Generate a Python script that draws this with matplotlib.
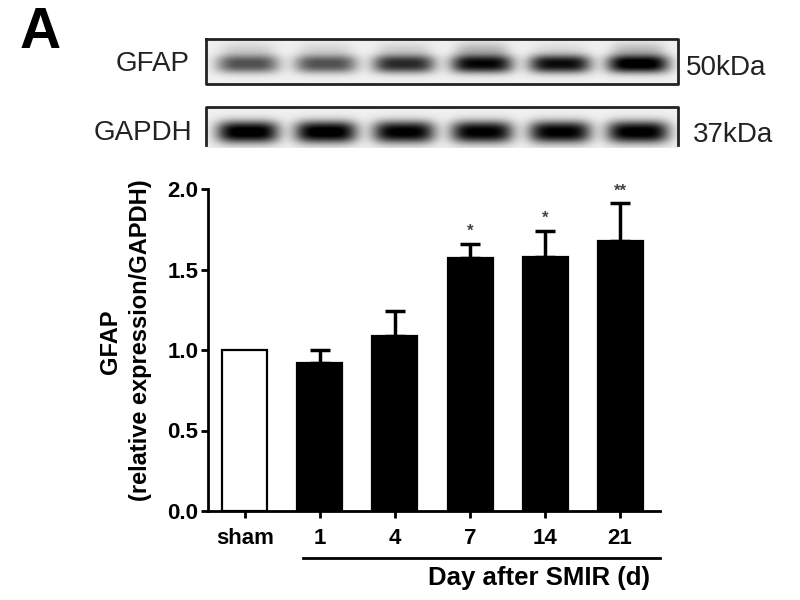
import numpy as np
import matplotlib
matplotlib.use("Agg")
import matplotlib.pyplot as plt
from matplotlib.transforms import blended_transform_factory

# ---------------- data ----------------
groups = ["sham", "1", "4", "7", "14", "21"]
means = [1.00, 0.92, 1.09, 1.57, 1.58, 1.68]
sems = [0.00, 0.08, 0.15, 0.09, 0.16, 0.23]
signif = ["", "", "", "*", "*", "**"]
bar_colors = ["white", "black", "black", "black", "black", "black"]
yticks = [0.0, 0.5, 1.0, 1.5, 2.0]
ytick_labels = ["0.0", "0.5", "1.0", "1.5", "2.0"]
gfap_band = [0.62, 0.62, 0.78, 0.92, 0.90, 1.00]
gfap_smear = [0.12, 0.10, 0.12, 0.22, 0.08, 0.20]
gapdh_band = [1.00, 1.00, 0.96, 0.96, 0.96, 0.98]
blot_labels = ["GFAP", "GAPDH"]
kda_labels = ["50kDa", "37kDa"]

plt.rcParams['font.family'] = ['Liberation Sans', 'DejaVu Sans']
W, H = 800, 600
fig = plt.figure(figsize=(8, 6), dpi=100)

# ---------------- overlay (pixel coordinates) ----------------
ov = fig.add_axes([0, 0, 1, 1])
ov.set_xlim(0, W)
ov.set_ylim(H, 0)
ov.axis('off')

lane_x0, lane_dx = 248, 78


def blot_image(x0, x1, y0, y1, cy, hw, hh, inten, smear=None, smear_dy=0, smear_hh=0):
    xs = np.arange(x0, x1, 1.0) + 0.5
    ys = np.arange(y0, y1, 1.0) + 0.5
    X, Y = np.meshgrid(xs, ys)
    img = np.full(X.shape, 0.06)
    for i, v in enumerate(inten):
        cx = lane_x0 + i * lane_dx
        core = np.exp(-(np.abs((X - cx) / hw) ** 4) - (np.abs((Y - cy) / hh) ** 2.5))
        img += v * core
        if smear is not None:
            sm = np.exp(-(np.abs((X - cx) / (hw * 0.85)) ** 4) - (np.abs((Y - (cy - smear_dy)) / smear_hh) ** 2))
            img += smear[i] * sm
    return np.clip(img, 0, 1)


# GFAP blot
gx0, gx1, gy0, gy1 = 206, 678, 39, 84
img = blot_image(gx0, gx1, gy0, gy1, 64, 31, 9, gfap_band, gfap_smear, 14, 8)
ov.imshow(img, cmap='gray_r', vmin=0, vmax=1, extent=(gx0, gx1, gy1, gy0),
          interpolation='bilinear', aspect='auto', zorder=1)
ov.plot([gx0, gx1, gx1, gx0, gx0], [gy0, gy0, gy1, gy1, gy0], color='#222222', lw=2, zorder=2)

# GAPDH blot
hx0, hx1, hy0, hy1 = 206, 678, 107, 148
img2 = blot_image(hx0, hx1, hy0, hy1, 132, 31, 11, gapdh_band)
ov.imshow(img2, cmap='gray_r', vmin=0, vmax=1, extent=(hx0, hx1, hy1, hy0),
          interpolation='bilinear', aspect='auto', zorder=1)
ov.plot([hx0, hx0, hx1, hx1], [hy1 - 3, hy0, hy0, hy1 - 3], color='#222222', lw=2, zorder=2)

ov.text(40, 48, "A", fontsize=41, fontweight='bold', ha='center', va='baseline', color='black')
ov.text(190, 64, blot_labels[0], fontsize=20, ha='right', va='center', color='#222222')
ov.text(192, 133, blot_labels[1], fontsize=20, ha='right', va='center', color='#222222')
ov.text(686, 68, kda_labels[0], fontsize=20, ha='left', va='center', color='#222222')
ov.text(693, 135, kda_labels[1], fontsize=20, ha='left', va='center', color='#222222')

# y label (two lines)
ov.text(110, 342, "GFAP", rotation=90, fontsize=17, fontweight='bold', ha='center', va='center')
ov.text(141, 340, "(relative expression/GAPDH)", rotation=90, fontsize=17, fontweight='bold',
        ha='center', va='center')

# ---------------- bar chart ----------------
ax_left, ax_right, ax_top, ax_bot = 208, 660, 189, 511
ax = fig.add_axes([ax_left / W, 1 - ax_bot / H, (ax_right - ax_left) / W, (ax_bot - ax_top) / H])
x = np.arange(len(groups))
ax.bar(x, means, width=0.6, color=bar_colors, edgecolor='black', linewidth=1.6, zorder=2)
xe = x[1:]
me = np.array(means[1:])
se = np.array(sems[1:])
ax.errorbar(xe, me, yerr=[np.zeros_like(se), se], fmt='none', ecolor='black',
            elinewidth=2.5, capsize=7, capthick=2.5, zorder=1)
for xi, m, s, lab in zip(x, means, sems, signif):
    if lab:
        ax.text(xi, m + s + 0.03, lab, ha='center', va='bottom', fontsize=12,
                fontweight='bold', color='#444444')

ax.set_xlim(-0.493, 5.533)
ax.set_ylim(0, 2.0)
ax.set_yticks(yticks)
ax.set_yticklabels(ytick_labels)
ax.set_xticks(x)
ax.set_xticklabels(groups)
for sp in ['top', 'right']:
    ax.spines[sp].set_visible(False)
for sp in ['left', 'bottom']:
    ax.spines[sp].set_linewidth(2)
ax.tick_params(axis='both', direction='out', length=5, width=2, labelsize=16)
ax.tick_params(axis='x', pad=7)
ax.tick_params(axis='y', pad=2)
for t in ax.get_xticklabels() + ax.get_yticklabels():
    t.set_fontweight('bold')

trans = blended_transform_factory(ax.transData, ax.transAxes)
ax.plot([0.77, 5.533], [-0.145, -0.145], color='black', lw=2, transform=trans, clip_on=False)
ov.text(539, 578, "Day after SMIR (d)", fontsize=18.5, fontweight='bold', ha='center', va='center')

fig.savefig("out.png", dpi=100, facecolor='white')
